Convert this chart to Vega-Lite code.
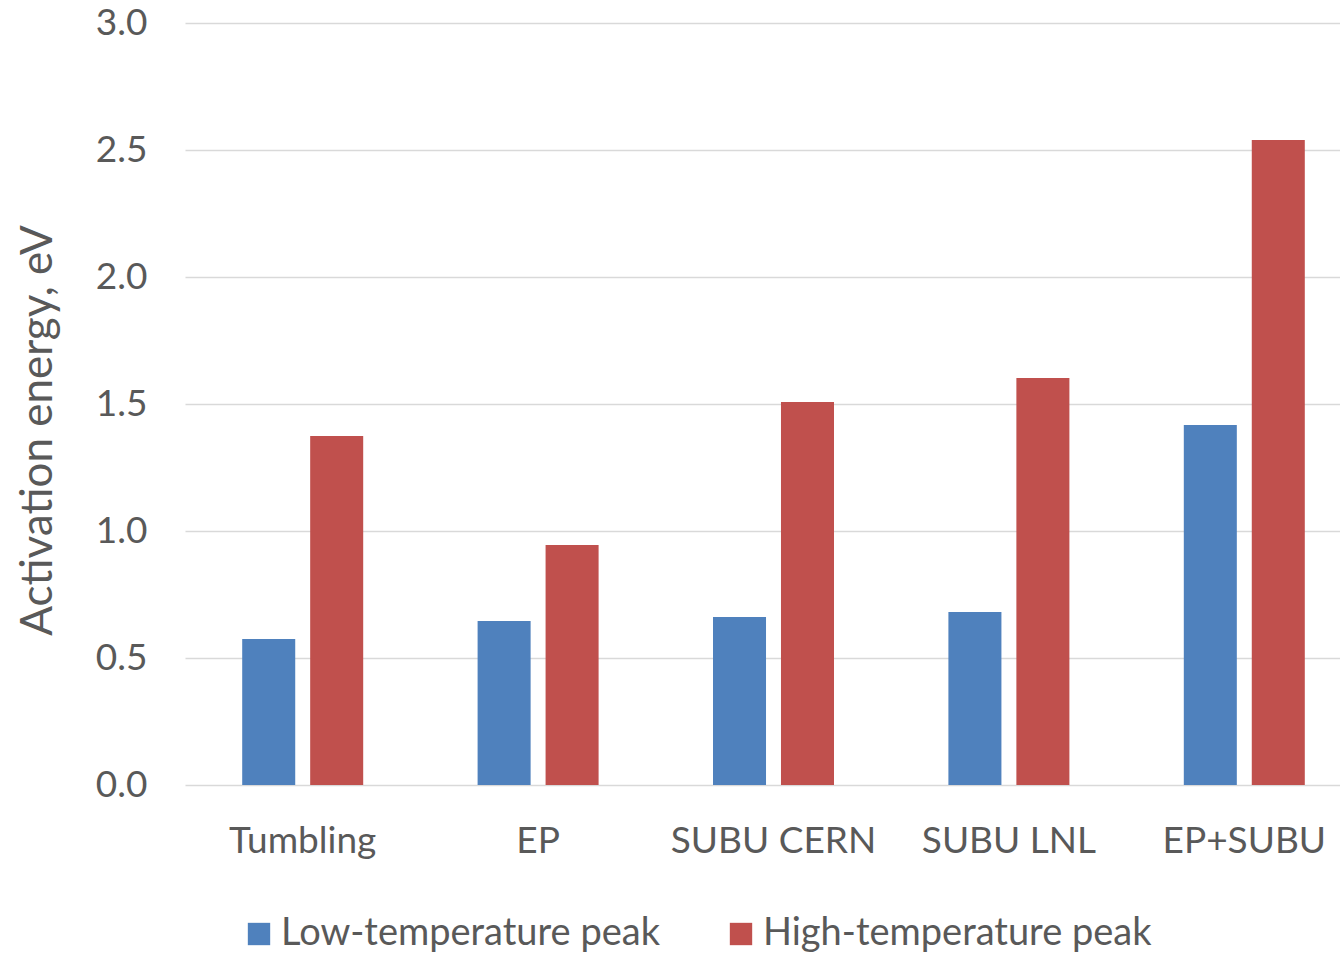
{
  "$schema": "https://vega.github.io/schema/vega-lite/v6.json",
  "width": 1177,
  "height": 762,
  "autosize": "none",
  "padding": {"left": 185, "top": 23, "right": 0, "bottom": 168},
  "background": "white",
  "config": {
    "view": {"stroke": null},
    "font": "Lato",
    "axis": {"labelColor": "#595959", "titleColor": "#595959", "labelFont": "Lato", "titleFont": "Lato"},
    "legend": {"labelColor": "#595959", "labelFont": "Lato"}
  },
  "data": {
    "values": [
      {"method": "Tumbling", "peak": "Low-temperature peak", "energy": 0.575},
      {"method": "Tumbling", "peak": "High-temperature peak", "energy": 1.374},
      {"method": "EP", "peak": "Low-temperature peak", "energy": 0.646},
      {"method": "EP", "peak": "High-temperature peak", "energy": 0.945},
      {"method": "SUBU CERN", "peak": "Low-temperature peak", "energy": 0.661},
      {"method": "SUBU CERN", "peak": "High-temperature peak", "energy": 1.508},
      {"method": "SUBU LNL", "peak": "Low-temperature peak", "energy": 0.681},
      {"method": "SUBU LNL", "peak": "High-temperature peak", "energy": 1.602},
      {"method": "EP+SUBU", "peak": "Low-temperature peak", "energy": 1.417},
      {"method": "EP+SUBU", "peak": "High-temperature peak", "energy": 2.539}
    ]
  },
  "mark": {"type": "bar"},
  "encoding": {
    "x": {
      "field": "method",
      "type": "nominal",
      "sort": ["Tumbling", "EP", "SUBU CERN", "SUBU LNL", "EP+SUBU"],
      "scale": {"paddingInner": 0.486, "paddingOuter": 0.243},
      "axis": {
        "title": null,
        "labelAngle": 0,
        "labelFontSize": 37,
        "labelPadding": 38,
        "labelLimit": 0,
        "ticks": false,
        "domain": false,
        "grid": false
      }
    },
    "xOffset": {
      "field": "peak",
      "type": "nominal",
      "sort": ["Low-temperature peak", "High-temperature peak"],
      "scale": {"paddingInner": 0.22, "paddingOuter": 0}
    },
    "y": {
      "field": "energy",
      "type": "quantitative",
      "scale": {"domain": [0, 3], "nice": false},
      "axis": {
        "title": "Activation energy, eV",
        "titleFontSize": 44,
        "titleFontWeight": "normal",
        "titleX": -147,
        "titleY": 407,
        "titleBaseline": "middle",
        "titleAlign": "center",
        "values": [0, 0.5, 1, 1.5, 2, 2.5, 3],
        "format": ".1f",
        "labelFontSize": 37,
        "labelPadding": 38,
        "ticks": false,
        "domain": false,
        "gridColor": "#D9D9D9",
        "gridWidth": 1.5
      }
    },
    "color": {
      "field": "peak",
      "type": "nominal",
      "sort": ["Low-temperature peak", "High-temperature peak"],
      "scale": {"domain": ["Low-temperature peak", "High-temperature peak"], "range": ["#4F81BD", "#C0504D"]},
      "legend": {
        "title": null,
        "orient": "none",
        "legendX": 55,
        "legendY": 892,
        "direction": "horizontal",
        "symbolType": "square",
        "symbolSize": 500,
        "symbolStrokeWidth": 0,
        "labelFontSize": 38,
        "labelLimit": 0,
        "labelOffset": 3,
        "columnPadding": 62
      }
    }
  }
}
